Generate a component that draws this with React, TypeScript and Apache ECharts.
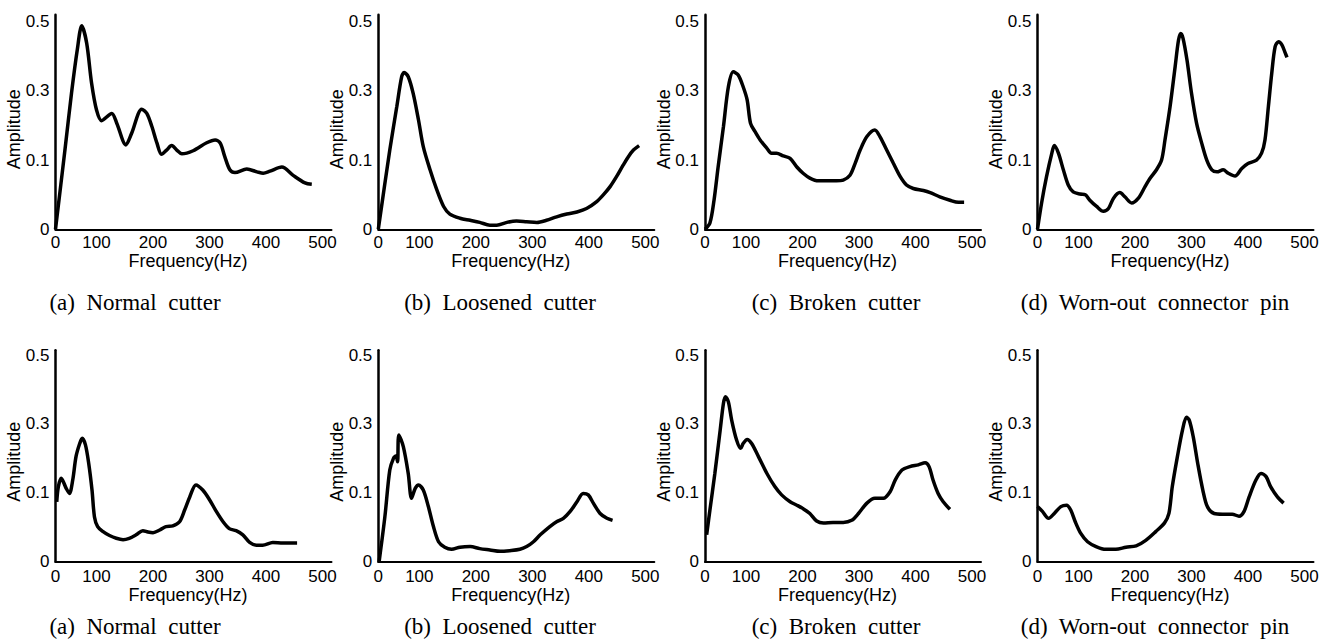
import React, { useEffect, useRef } from "react";
import * as echarts from "echarts";

// ---- tick labels (axes of the original figure are drawn with irregular label spacing) ----
const X_TICK_LABELS = [0, 100, 200, 300, 400, 500];
const X_TICK_POS = [0, 0.726, 1.726, 2.726, 3.726, 4.726];
const X_AXIS_MAX = 4.885;
const Y_TICK_LABELS = [0, 0.1, 0.3, 0.5];
const Y_TICK_POS = [0, 1, 2, 3];

const CAPTIONS = ["(a)  Normal  cutter", "(b)  Loosened  cutter", "(c)  Broken  cutter", "(d)  Worn-out  connector  pin"];

// ---- row 1 ----
const freqTopA = [0, 23, 39, 53, 64, 76, 88, 100, 109, 127, 136, 152, 162, 180, 189, 198, 207, 215, 224, 233, 242, 251, 271, 295, 310, 319, 327, 336, 345, 366, 384, 395, 407, 428, 448, 469, 481];
const ampTopA = [0, 0.129, 0.293, 0.418, 0.488, 0.438, 0.322, 0.245, 0.214, 0.235, 0.206, 0.144, 0.177, 0.247, 0.235, 0.197, 0.149, 0.117, 0.129, 0.142, 0.129, 0.118, 0.127, 0.15, 0.158, 0.149, 0.11, 0.086, 0.082, 0.087, 0.083, 0.081, 0.084, 0.09, 0.078, 0.067, 0.065];

const freqTopB = [0, 28, 45, 57, 63, 73, 85, 98, 107, 119, 131, 143, 154, 172, 190, 207, 225, 237, 255, 272, 290, 308, 325, 343, 361, 379, 396, 414, 426, 438, 449, 461, 470, 479, 489];
const ampTopB = [0, 0.129, 0.254, 0.341, 0.353, 0.341, 0.293, 0.216, 0.139, 0.086, 0.057, 0.033, 0.022, 0.016, 0.013, 0.01, 0.006, 0.006, 0.01, 0.012, 0.011, 0.01, 0.013, 0.018, 0.022, 0.025, 0.03, 0.04, 0.05, 0.062, 0.076, 0.093, 0.11, 0.129, 0.142];

const freqTopC = [0, 12, 22, 32, 45, 57, 69, 81, 93, 102, 108, 116, 125, 137, 145, 154, 166, 178, 190, 201, 213, 228, 243, 260, 272, 284, 293, 302, 314, 328, 337, 349, 361, 373, 384, 396, 414, 426, 443, 461, 476, 486];
const ampTopC = [0, 0.009, 0.042, 0.09, 0.197, 0.312, 0.355, 0.346, 0.312, 0.274, 0.206, 0.182, 0.158, 0.134, 0.12, 0.12, 0.112, 0.105, 0.09, 0.081, 0.074, 0.07, 0.07, 0.07, 0.071, 0.078, 0.095, 0.129, 0.168, 0.187, 0.168, 0.129, 0.095, 0.076, 0.064, 0.059, 0.056, 0.053, 0.047, 0.042, 0.039, 0.039];

const freqTopD = [0, 10, 22, 35, 41, 51, 63, 75, 87, 103, 112, 120, 132, 144, 153, 162, 173, 182, 194, 206, 218, 227, 238, 247, 253, 262, 271, 277, 281, 285, 292, 300, 309, 318, 327, 336, 345, 356, 365, 377, 389, 400, 415, 424, 430, 436, 442, 448, 454, 460, 466, 469];
const ampTopD = [0, 0.038, 0.076, 0.12, 0.142, 0.12, 0.086, 0.064, 0.054, 0.051, 0.05, 0.042, 0.033, 0.026, 0.03, 0.045, 0.053, 0.047, 0.038, 0.045, 0.062, 0.074, 0.086, 0.1, 0.158, 0.254, 0.37, 0.447, 0.466, 0.452, 0.389, 0.293, 0.206, 0.149, 0.1, 0.086, 0.083, 0.086, 0.081, 0.077, 0.088, 0.095, 0.1, 0.12, 0.158, 0.254, 0.351, 0.428, 0.442, 0.433, 0.409, 0.397];

// ---- row 2 ----
const freqBotA = [3, 7, 14, 26, 34, 42, 50, 59, 65, 73, 81, 89, 95, 102, 111, 123, 135, 147, 158, 170, 182, 191, 200, 212, 223, 235, 247, 256, 265, 276, 288, 300, 312, 324, 335, 347, 359, 371, 383, 394, 412, 430, 455];
const ampBotA = [0.087, 0.118, 0.142, 0.113, 0.099, 0.137, 0.205, 0.243, 0.258, 0.239, 0.185, 0.108, 0.065, 0.051, 0.044, 0.038, 0.034, 0.032, 0.034, 0.039, 0.045, 0.043, 0.042, 0.046, 0.051, 0.052, 0.058, 0.075, 0.094, 0.123, 0.108, 0.09, 0.073, 0.058, 0.048, 0.045, 0.039, 0.028, 0.024, 0.024, 0.028, 0.027, 0.027];

const freqBotB = [2, 16, 28, 37, 43, 47, 50, 61, 73, 81, 90, 98, 107, 116, 125, 134, 145, 157, 172, 190, 207, 225, 243, 260, 278, 290, 302, 314, 331, 343, 355, 367, 379, 390, 399, 408, 420, 432, 442];
const ampBotB = [0, 0.065, 0.166, 0.2, 0.207, 0.19, 0.268, 0.234, 0.156, 0.092, 0.113, 0.123, 0.108, 0.08, 0.051, 0.029, 0.021, 0.018, 0.021, 0.022, 0.019, 0.017, 0.015, 0.016, 0.018, 0.022, 0.029, 0.039, 0.051, 0.058, 0.063, 0.073, 0.087, 0.099, 0.097, 0.085, 0.07, 0.063, 0.06];

const freqBotC = [4, 12, 24, 37, 45, 50, 57, 65, 77, 87, 93, 102, 110, 122, 137, 151, 163, 178, 190, 201, 213, 225, 237, 254, 272, 287, 299, 314, 328, 343, 355, 364, 376, 390, 405, 417, 424, 431, 440, 449, 461];
const ampBotC = [0.039, 0.075, 0.156, 0.282, 0.36, 0.379, 0.364, 0.311, 0.253, 0.229, 0.243, 0.255, 0.243, 0.205, 0.156, 0.118, 0.097, 0.087, 0.082, 0.077, 0.07, 0.059, 0.056, 0.057, 0.057, 0.06, 0.07, 0.085, 0.092, 0.092, 0.103, 0.137, 0.166, 0.176, 0.181, 0.187, 0.176, 0.137, 0.099, 0.087, 0.076];

const freqBotD = [0, 12, 27, 41, 57, 71, 81, 92, 104, 116, 131, 148, 166, 184, 202, 219, 237, 252, 260, 266, 275, 284, 291, 296, 303, 311, 320, 328, 340, 355, 372, 384, 393, 402, 414, 423, 432, 440, 452, 463];
const ampBotD = [0.08, 0.073, 0.063, 0.07, 0.08, 0.082, 0.075, 0.058, 0.041, 0.029, 0.022, 0.018, 0.018, 0.021, 0.023, 0.031, 0.044, 0.056, 0.07, 0.118, 0.205, 0.282, 0.319, 0.311, 0.263, 0.185, 0.108, 0.08, 0.07, 0.069, 0.069, 0.066, 0.073, 0.094, 0.137, 0.156, 0.147, 0.118, 0.094, 0.085];

const PANELS = [
  { freq: freqTopA, amp: ampTopA, row: 0, col: 0 },
  { freq: freqTopB, amp: ampTopB, row: 0, col: 1 },
  { freq: freqTopC, amp: ampTopC, row: 0, col: 2 },
  { freq: freqTopD, amp: ampTopD, row: 0, col: 3 },
  { freq: freqBotA, amp: ampBotA, row: 1, col: 0 },
  { freq: freqBotB, amp: ampBotB, row: 1, col: 1 },
  { freq: freqBotC, amp: ampBotC, row: 1, col: 2 },
  { freq: freqBotD, amp: ampBotD, row: 1, col: 3 },
];

// layout
const COL_X = [55.5, 378.3, 705, 1037.5];
const PLOT_W = 276;
const ROW_ZERO = [229.3, 561.7];
const ROW_UNIT = [69.2, 68.9];
const ROW_YMAX = [3.1, 3.07];
const XLABEL_MARGIN = [5, 6.5];
const CAPTION_X = [135, 500, 836, 1155];
const FREQ_Y = [261, 595];
const CAPTION_Y = [302, 626];

const SANS = "'Liberation Sans', Arial, sans-serif";
const SERIF = "'Liberation Serif', 'Times New Roman', serif";

function piecewise(v: number, from: number[], to: number[]) {
  for (let i = 1; i < from.length; i++) {
    if (v <= from[i] || i === from.length - 1) {
      const t = (v - from[i - 1]) / (from[i] - from[i - 1]);
      return to[i - 1] + t * (to[i] - to[i - 1]);
    }
  }
  return to[to.length - 1];
}
const toX = (hz: number) => piecewise(hz, X_TICK_LABELS, X_TICK_POS);
const toY = (a: number) => piecewise(a, Y_TICK_LABELS, Y_TICK_POS);

function nearestLabel(v: number, pos: number[], labels: number[]) {
  let best = 0;
  for (let i = 1; i < pos.length; i++) if (Math.abs(pos[i] - v) < Math.abs(pos[best] - v)) best = i;
  return Math.abs(pos[best] - v) < 0.02 ? String(labels[best]) : "";
}

export default function App() {
  const ref = useRef<HTMLDivElement>(null);
  useEffect(() => {
    document.body.style.margin = "0";
    const chart = echarts.init(ref.current!, null, { renderer: "svg" });
    const grids: any[] = [];
    const xAxes: any[] = [];
    const yAxes: any[] = [];
    const series: any[] = [];
    const graphics: any[] = [];
    PANELS.forEach((p, i) => {
      const h = ROW_YMAX[p.row] * ROW_UNIT[p.row];
      grids.push({ left: COL_X[p.col], top: ROW_ZERO[p.row] - h, width: PLOT_W, height: h });
      xAxes.push({
        gridIndex: i,
        type: "value",
        min: 0,
        max: X_AXIS_MAX,
        axisLine: { show: true, onZero: false, lineStyle: { color: "#000", width: 2 } },
        axisTick: { show: false },
        splitLine: { show: false },
        axisLabel: {
          customValues: X_TICK_POS,
          formatter: (v: number) => nearestLabel(v, X_TICK_POS, X_TICK_LABELS),
          margin: XLABEL_MARGIN[p.row],
          color: "#000",
          fontSize: 17,
          fontFamily: SANS,
        },
      });
      yAxes.push({
        gridIndex: i,
        type: "value",
        min: 0,
        max: ROW_YMAX[p.row],
        axisLine: { show: true, onZero: false, lineStyle: { color: "#000", width: 2.5 } },
        axisTick: { show: false },
        splitLine: { show: false },
        axisLabel: {
          customValues: Y_TICK_POS,
          formatter: (v: number) => nearestLabel(v, Y_TICK_POS, Y_TICK_LABELS),
          margin: 6,
          color: "#000",
          fontSize: 17,
          fontFamily: SANS,
        },
      });
      series.push({
        type: "line",
        xAxisIndex: i,
        yAxisIndex: i,
        data: p.freq.map((f, k) => [toX(f), toY(p.amp[k])]),
        showSymbol: false,
        symbol: "none",
        smooth: 0.3,
        clip: false,
        lineStyle: { color: "#000", width: 3.5 },
      });
      const x0 = COL_X[p.col];
      graphics.push({
        type: "text",
        x: x0 - 41.3,
        y: ROW_ZERO[p.row] - 100,
        rotation: Math.PI / 2,
        style: { text: "Amplitude", font: `18px ${SANS}`, fill: "#000", align: "center", verticalAlign: "middle", textAlign: "center", textVerticalAlign: "middle" },
      });
      graphics.push({
        type: "text",
        x: x0 + 132.5,
        y: FREQ_Y[p.row],
        style: { text: "Frequency(Hz)", font: `18px ${SANS}`, fill: "#000", align: "center", verticalAlign: "middle", textAlign: "center", textVerticalAlign: "middle" },
      });
      graphics.push({
        type: "text",
        x: CAPTION_X[p.col],
        y: CAPTION_Y[p.row],
        style: { text: CAPTIONS[p.col], font: `23px ${SERIF}`, fill: "#000", align: "center", verticalAlign: "middle", textAlign: "center", textVerticalAlign: "middle" },
      });
    });
    chart.setOption({
      animation: false,
      backgroundColor: "#fff",
      grid: grids,
      xAxis: xAxes,
      yAxis: yAxes,
      series,
      graphic: { elements: graphics },
    });
    return () => chart.dispose();
  }, []);
  return <div ref={ref} style={{ width: 1330, height: 639 }} />;
}
